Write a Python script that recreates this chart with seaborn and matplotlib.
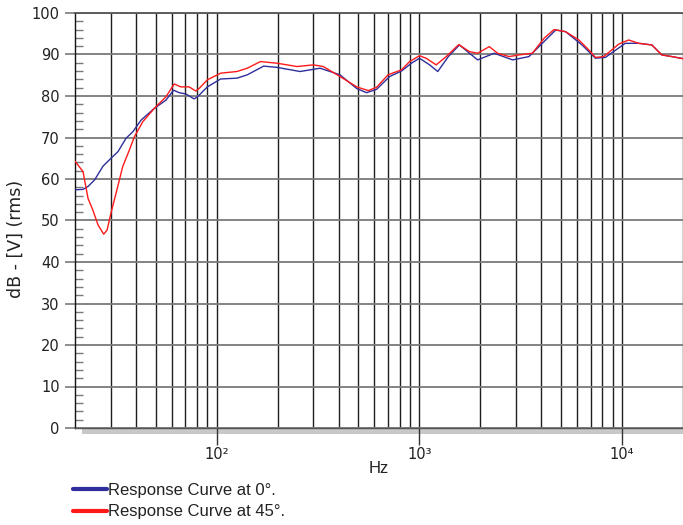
import numpy as np
import pandas as pd
import matplotlib
matplotlib.use("Agg")
import matplotlib.pyplot as plt
import seaborn as sns
from matplotlib.patches import Rectangle
from matplotlib.ticker import FixedLocator, FixedFormatter, MultipleLocator, NullFormatter

# ---- data ----
freq_0 = [20, 21.9, 23.2, 25.0, 27.5, 30.7, 32.6, 35.7, 38.6, 42.4, 49.2, 56.2, 61.3, 65.3,
          70.4, 77.4, 80.4, 90, 104.6, 126, 141.6, 170.6, 198.6, 258, 324, 406, 491, 549,
          615, 714, 816, 914, 1002, 1124, 1233, 1390, 1577, 1940, 2343, 2885, 3475, 4200,
          4710, 5268, 6350, 7397, 8280, 10380, 12080, 14040, 15710, 17620, 20000]
db_0 = [57.4, 57.5, 58.2, 59.8, 63.1, 65.4, 66.6, 69.8, 71.4, 74.2, 77.0, 79.0, 81.4, 80.8,
        80.5, 79.3, 79.8, 82.2, 84.1, 84.3, 85.1, 87.2, 86.9, 85.9, 86.7, 85.1, 81.8, 80.8,
        81.6, 84.7, 86.0, 87.9, 89.1, 87.5, 85.9, 89.5, 92.3, 88.7, 90.3, 88.7, 89.5, 93.5,
        95.9, 95.5, 92.3, 89.1, 89.3, 92.7, 92.7, 92.3, 89.9, 89.5, 89.0]

freq_45 = [20, 21.9, 23.2, 24.5, 26.0, 27.7, 28.8, 30.2, 31.9, 34.4, 37.1, 39.3, 43.2, 49.2,
           56.2, 61.7, 66.5, 73.1, 78.9, 81.9, 90, 104.6, 126, 141.6, 164.4, 198.6, 249, 300,
           336, 406, 491, 560, 615, 701, 816, 896, 1002, 1081, 1211, 1358, 1565, 1765, 1940,
           2215, 2433, 2776, 3107, 3611, 4124, 4617, 5268, 6127, 6860, 7397, 8131, 9634,
           10790, 12080, 14040, 15710, 17620, 20000]
db_45 = [64.3, 61.8, 55.3, 52.5, 48.9, 46.7, 47.7, 52.1, 56.6, 63.0, 67.0, 70.2, 73.8, 77.0,
         79.8, 82.9, 82.2, 82.2, 81.2, 81.8, 83.9, 85.5, 85.9, 86.7, 88.3, 87.9, 87.1, 87.5,
         87.1, 84.7, 82.2, 81.3, 82.1, 85.1, 86.3, 88.3, 89.7, 89.1, 87.5, 89.5, 92.4, 90.7,
         90.3, 91.9, 90.3, 89.5, 89.9, 90.3, 93.9, 96.0, 95.5, 93.5, 91.1, 89.3, 89.5, 92.5,
         93.5, 92.7, 92.3, 89.9, 89.5, 89.0]

series_names = ["Response Curve at 0°.", "Response Curve at 45°."]
series_colors = ["#2e2e9c", "#ff1a1a"]
xtick_values = [100, 1000, 10000]
xtick_labels = ["10²", "10³", "10⁴"]
ytick_values = list(range(0, 101, 10))
x_label = "Hz"
y_label = "dB - [V] (rms)"

df = pd.concat([
    pd.DataFrame({"Hz": freq_0, "dB": db_0, "curve": series_names[0]}),
    pd.DataFrame({"Hz": freq_45, "dB": db_45, "curve": series_names[1]}),
], ignore_index=True)

sns.set_theme(style="white")
plt.rcParams["font.family"] = ["Liberation Sans", "DejaVu Sans"]
wide_font = ["DejaVu Sans"]

W, H = 683, 525
fig = plt.figure(figsize=(W / 100, H / 100), dpi=100)
ax = fig.add_axes([75 / W, (H - 428) / H, (683 - 75) / W, (428 - 13) / H])

sns.lineplot(data=df, x="Hz", y="dB", hue="curve", palette=series_colors,
             hue_order=series_names, ax=ax, linewidth=1.0, legend=False, sort=False,
             zorder=5)

ax.set_xscale("log")
ax.set_xlim(20, 20000)
ax.set_ylim(0, 100)

# grid
ax.xaxis.set_major_locator(FixedLocator(xtick_values))
ax.xaxis.set_major_formatter(FixedFormatter(xtick_labels))
minor_x = [m * 10 ** d for d in range(1, 5) for m in range(2, 10)]
ax.xaxis.set_minor_locator(FixedLocator([v for v in minor_x if 20 < v <= 20000]))
ax.xaxis.set_minor_formatter(NullFormatter())
ax.grid(which="both", axis="x", color="#1e1e1e", linewidth=1.0, zorder=1)
ax.yaxis.set_major_locator(FixedLocator(ytick_values))
ax.yaxis.set_minor_locator(MultipleLocator(2))
ax.grid(which="major", axis="y", color="#7a7a7a", linewidth=1.3, zorder=1)
ax.set_axisbelow(True)

ax.spines["right"].set_visible(False)
ax.spines["top"].set_color("#555555")
ax.spines["top"].set_linewidth(1.3)
ax.spines["left"].set_color("#111111")
ax.spines["left"].set_linewidth(1.0)
ax.spines["bottom"].set_color("#555555")
ax.spines["bottom"].set_linewidth(1.0)

ax.tick_params(axis="y", which="major", direction="out", length=7, width=1.2,
               color="#7a7a7a", labelsize=10.5, pad=4, left=True)
ax.tick_params(axis="y", which="minor", direction="in", length=6, width=1.0,
               color="#7a7a7a", left=True)
ax.tick_params(axis="x", which="major", direction="out", length=12, width=1.0,
               color="#333333", labelsize=10.5, pad=2, bottom=True)
ax.tick_params(axis="x", which="minor", length=0)
for lab in ax.get_xticklabels() + ax.get_yticklabels():
    lab.set_family(wide_font)
    lab.set_color("#222222")

# grey shadow band under the x axis
ax.add_patch(Rectangle((7 / 608, -6 / 415), 1.0, 5.5 / 415, transform=ax.transAxes,
                       facecolor="#c8c8c8", edgecolor="none", clip_on=False, zorder=0))

ax.set_xlabel(x_label, fontsize=12, labelpad=-1, color="#222222")
ax.set_ylabel(y_label, fontsize=12.5, family=wide_font, color="#222222")
ax.yaxis.set_label_coords(-0.083, 0.455)

handles = [plt.Line2D([], [], color=c, linewidth=3) for c in series_colors]
fig.legend(handles, series_names, loc="upper left", bbox_to_anchor=(66 / W, 1 - 476 / H),
           frameon=False, fontsize=12, handlelength=2.05, handletextpad=0.1,
           labelspacing=0.4, borderaxespad=0, labelcolor="#222222")

fig.savefig("out.png", dpi=100)
